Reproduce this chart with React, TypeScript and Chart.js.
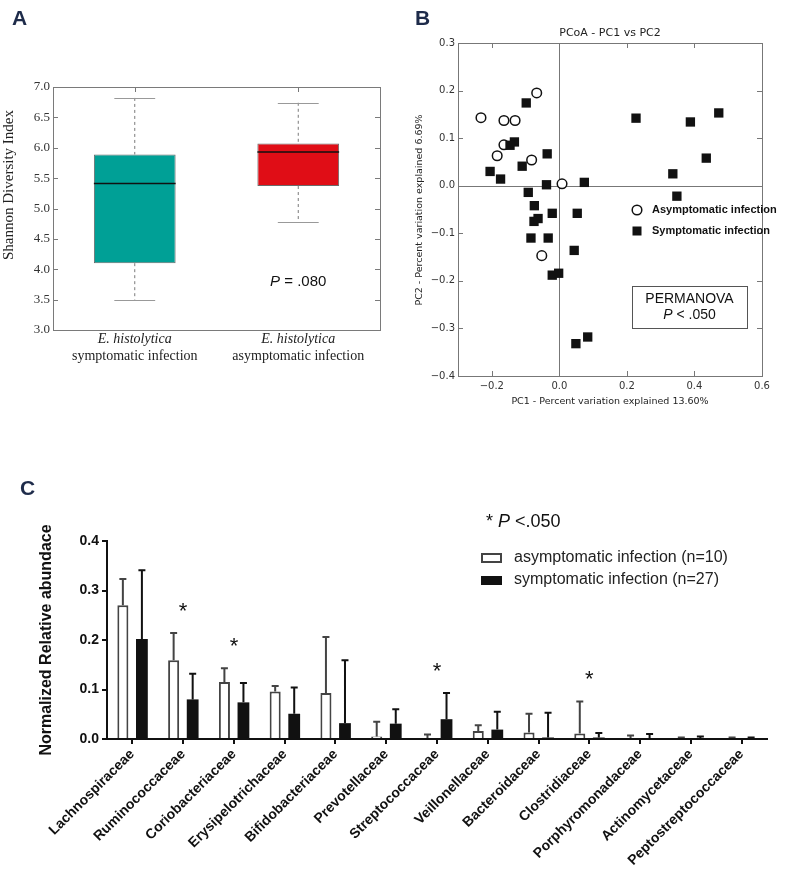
import React, { useEffect, useRef } from "react";
import { Chart, registerables } from "chart.js";
Chart.register(...registerables);

const SERIF = "'Liberation Serif', 'Times New Roman', serif";
const SANS = "'Liberation Sans', Arial, sans-serif";
const DJV = "'DejaVu Sans', Verdana, sans-serif";
const NAVY = "#1E2B4A";

// ---------- Panel A : Shannon diversity boxplot ----------
const boxSpecies = "E. histolytica";
const boxGroups = ["symptomatic infection", "asymptomatic infection"];
const boxLow = [3.5, 4.77];
const boxQ1 = [4.1, 5.37];
const boxMedian = [5.41, 5.93];
const boxQ3 = [5.89, 6.07];
const boxHigh = [6.82, 6.74];
const boxColors = ["#00A096", "#E00D16"];
const shannonTicks = [3.0, 3.5, 4.0, 4.5, 5.0, 5.5, 6.0, 6.5, 7.0];

// ---------- Panel B : PCoA ----------
const asymPC1 = [-0.232, -0.164, -0.131, -0.067, -0.164, -0.184, -0.082, 0.008, -0.052];
const asymPC2 = [0.143, 0.137, 0.137, 0.195, 0.086, 0.063, 0.054, 0.004, -0.147];
const symPC1 = [-0.098, 0.227, 0.388, 0.472, 0.435, 0.336, 0.348, -0.133, -0.146, -0.036, -0.11, -0.205, -0.174, -0.038, 0.074, -0.092, -0.074, -0.075, -0.063, -0.021, 0.053, -0.084, -0.033, 0.044, -0.021, -0.002, 0.049, 0.084];
const symPC2 = [0.174, 0.142, 0.134, 0.153, 0.058, 0.025, -0.022, 0.092, 0.085, 0.067, 0.041, 0.03, 0.014, 0.002, 0.007, -0.014, -0.042, -0.075, -0.069, -0.058, -0.058, -0.11, -0.11, -0.136, -0.188, -0.184, -0.332, -0.318];
const pc1Ticks = [-0.2, 0.0, 0.2, 0.4, 0.6];
const pc2Ticks = [-0.4, -0.3, -0.2, -0.1, 0.0, 0.1, 0.2, 0.3];

// ---------- Panel C : family abundance ----------
const families = [
  "Lachnospiraceae", "Ruminococcaceae", "Coriobacteriaceae", "Erysipelotrichaceae",
  "Bifidobacteriaceae", "Prevotellaceae", "Streptococcaceae", "Veillonellaceae",
  "Bacteroidaceae", "Clostridiaceae", "Porphyromonadaceae", "Actinomycetaceae",
  "Peptostreptococcaceae",
];
const asymMean = [0.27, 0.159, 0.115, 0.096, 0.093, 0.005, 0.002, 0.016, 0.013, 0.011, 0.002, 0.001, 0.001];
const asymSD = [0.053, 0.055, 0.028, 0.011, 0.113, 0.03, 0.007, 0.012, 0.038, 0.065, 0.005, 0.002, 0.002];
const symMean = [0.202, 0.08, 0.074, 0.051, 0.032, 0.031, 0.04, 0.019, 0.003, 0.003, 0.001, 0.001, 0.001];
const symSD = [0.139, 0.052, 0.039, 0.053, 0.127, 0.029, 0.053, 0.036, 0.05, 0.009, 0.009, 0.004, 0.002];
const sigFamilies = ["Ruminococcaceae", "Coriobacteriaceae", "Streptococcaceae", "Clostridiaceae"];
const abundTicks = [0, 0.1, 0.2, 0.3, 0.4];

const fmtSigned = (v: any) => {
  const n = Number(v);
  const s = Math.abs(n).toFixed(1);
  return n < -1e-9 ? "\u2212" + s : s;
};

function drawLetter(ctx: CanvasRenderingContext2D, t: string, x: number, y: number) {
  ctx.save();
  ctx.fillStyle = NAVY;
  ctx.font = `bold 21px ${SANS}`;
  ctx.textAlign = "left";
  ctx.textBaseline = "alphabetic";
  ctx.fillText(t, x, y);
  ctx.restore();
}

function drawMixed(ctx: CanvasRenderingContext2D, parts: [string, string][], cx: number, cy: number, align: "center" | "left" = "center") {
  let total = 0;
  const widths = parts.map(([txt, font]) => { ctx.font = font; const w = ctx.measureText(txt).width; total += w; return w; });
  let x = align === "center" ? cx - total / 2 : cx;
  ctx.textAlign = "left";
  ctx.textBaseline = "middle";
  parts.forEach(([txt, font], i) => { ctx.font = font; ctx.fillText(txt, x, cy); x += widths[i]; });
}

const boxPlugin = {
  id: "boxPlugin",
  afterDatasetsDraw(chart: any) {
    const { ctx, chartArea: a, scales } = chart;
    const y = scales.y;
    const meta = chart.getDatasetMeta(0);
    ctx.save();
    meta.data.forEach((bar: any, i: number) => {
      const cx = bar.x;
      const w = bar.width;
      ctx.strokeStyle = "#7a7a7a";
      ctx.lineWidth = 1;
      ctx.setLineDash([3, 3]);
      ctx.beginPath();
      ctx.moveTo(cx, y.getPixelForValue(boxHigh[i]));
      ctx.lineTo(cx, y.getPixelForValue(boxQ3[i]));
      ctx.moveTo(cx, y.getPixelForValue(boxQ1[i]));
      ctx.lineTo(cx, y.getPixelForValue(boxLow[i]));
      ctx.stroke();
      ctx.setLineDash([]);
      ctx.strokeStyle = "#999";
      ctx.beginPath();
      [boxHigh[i], boxLow[i]].forEach((v) => {
        const py = Math.round(y.getPixelForValue(v)) + 0.5;
        ctx.moveTo(cx - w / 4, py);
        ctx.lineTo(cx + w / 4, py);
      });
      ctx.stroke();
      ctx.strokeStyle = "#111";
      ctx.lineWidth = 1.5;
      ctx.beginPath();
      const my = y.getPixelForValue(boxMedian[i]);
      ctx.moveTo(cx - w / 2, my);
      ctx.lineTo(cx + w / 2, my);
      ctx.stroke();
      // category labels
      ctx.fillStyle = "#222";
      ctx.textAlign = "center";
      ctx.textBaseline = "middle";
      ctx.font = `italic 14px ${SERIF}`;
      ctx.fillText(boxSpecies, cx, a.bottom + 9);
      ctx.font = `14px ${SERIF}`;
      ctx.fillText(boxGroups[i], cx, a.bottom + 26);
      // top tick
      ctx.strokeStyle = "#777";
      ctx.lineWidth = 1;
      ctx.beginPath();
      ctx.moveTo(Math.round(cx) + 0.5, a.top);
      ctx.lineTo(Math.round(cx) + 0.5, a.top + 5);
      ctx.stroke();
    });
    // frame
    ctx.strokeStyle = "#7a7a7a";
    ctx.lineWidth = 1;
    ctx.strokeRect(Math.round(a.left) + 0.5, Math.round(a.top) + 0.5, Math.round(a.width), Math.round(a.height));
    ctx.beginPath();
    shannonTicks.forEach((v) => {
      const py = Math.round(y.getPixelForValue(v)) + 0.5;
      ctx.moveTo(a.left, py); ctx.lineTo(a.left + 5, py);
      ctx.moveTo(a.right, py); ctx.lineTo(a.right - 5, py);
    });
    ctx.stroke();
    // y title
    ctx.save();
    ctx.translate(9, a.top + 98);
    ctx.rotate(-Math.PI / 2);
    ctx.fillStyle = "#222";
    ctx.font = `15px ${SERIF}`;
    ctx.textAlign = "center";
    ctx.textBaseline = "middle";
    ctx.fillText("Shannon Diversity Index", 0, 0);
    ctx.restore();
    // p value
    ctx.fillStyle = "#111";
    const px = meta.data[1].x;
    drawMixed(ctx, [["P", `italic 15px ${SANS}`], [" = .080", `15px ${SANS}`]], px, y.getPixelForValue(3.79));
    drawLetter(ctx, "A", 12, 25);
    ctx.restore();
  },
};

const pcoaPlugin = {
  id: "pcoaPlugin",
  beforeDatasetsDraw(chart: any) {
    const { ctx, chartArea: a, scales } = chart;
    const { x, y } = scales;
    ctx.save();
    ctx.strokeStyle = "#777";
    ctx.lineWidth = 1;
    const x0 = Math.round(x.getPixelForValue(0)) + 0.5;
    const y0 = Math.round(y.getPixelForValue(0)) + 0.5;
    ctx.beginPath();
    ctx.moveTo(x0, a.top); ctx.lineTo(x0, a.bottom);
    ctx.moveTo(a.left, y0); ctx.lineTo(a.right, y0);
    pc2Ticks.forEach((v) => {
      const py = Math.round(y.getPixelForValue(v)) + 0.5;
      ctx.moveTo(a.left, py); ctx.lineTo(a.left + 5, py);
      ctx.moveTo(a.right, py); ctx.lineTo(a.right - 5, py);
    });
    pc1Ticks.forEach((v) => {
      const px = Math.round(x.getPixelForValue(v)) + 0.5;
      ctx.moveTo(px, a.top); ctx.lineTo(px, a.top + 5);
      ctx.moveTo(px, a.bottom); ctx.lineTo(px, a.bottom - 5);
    });
    ctx.stroke();
    ctx.strokeRect(Math.round(a.left) + 0.5, Math.round(a.top) + 0.5, Math.round(a.width), Math.round(a.height));
    ctx.restore();
  },
  afterDraw(chart: any) {
    const { ctx, chartArea: a } = chart;
    ctx.save();
    ctx.fillStyle = "#222";
    ctx.textAlign = "center";
    ctx.textBaseline = "middle";
    ctx.font = `11px ${DJV}`;
    ctx.fillText("PCoA - PC1 vs PC2", (a.left + a.right) / 2, a.top - 10);
    ctx.font = `9.5px ${DJV}`;
    ctx.fillText("PC1 - Percent variation explained 13.60%", (a.left + a.right) / 2, a.bottom + 26);
    ctx.save();
    ctx.translate(20, (a.top + a.bottom) / 2 + 0.5);
    ctx.rotate(-Math.PI / 2);
    ctx.fillText("PC2 - Percent variation explained 6.69%", 0, 0);
    ctx.restore();
    // legend
    const lx = a.left + 179;
    const ly1 = a.top + 167;
    const ly2 = a.top + 188;
    ctx.beginPath();
    ctx.arc(lx, ly1, 4.8, 0, Math.PI * 2);
    ctx.fillStyle = "#fff";
    ctx.fill();
    ctx.strokeStyle = "#111";
    ctx.lineWidth = 1.5;
    ctx.stroke();
    ctx.fillStyle = "#111";
    ctx.fillRect(lx - 4.5, ly2 - 4.5, 9, 9);
    ctx.font = `bold 11px ${SANS}`;
    ctx.textAlign = "left";
    ctx.fillText("Asymptomatic infection", lx + 15, ly1);
    ctx.fillText("Symptomatic infection", lx + 15, ly2);
    // PERMANOVA box
    const bx = a.left + 174, by = a.top + 243, bw = 115, bh = 42;
    ctx.strokeStyle = "#555";
    ctx.lineWidth = 1;
    ctx.strokeRect(bx + 0.5, by + 0.5, bw, bh);
    ctx.fillStyle = "#111";
    ctx.textAlign = "center";
    ctx.font = `14px ${SANS}`;
    ctx.fillText("PERMANOVA", bx + bw / 2, by + 13);
    drawMixed(ctx, [["P", `italic 14px ${SANS}`], [" < .050", `14px ${SANS}`]], bx + bw / 2, by + 29);
    drawLetter(ctx, "B", 15, 25);
    ctx.restore();
  },
};

const abundPlugin = {
  id: "abundPlugin",
  afterDatasetsDraw(chart: any) {
    const { ctx, scales } = chart;
    const { x, y } = scales;
    ctx.save();
    const groups = [
      { mean: asymMean, sd: asymSD, color: "#444" },
      { mean: symMean, sd: symSD, color: "#111" },
    ];
    groups.forEach((g, di) => {
      const meta = chart.getDatasetMeta(di);
      ctx.strokeStyle = g.color;
      ctx.lineWidth = 2;
      ctx.beginPath();
      meta.data.forEach((bar: any, j: number) => {
        const bx = bar.x;
        const yb = y.getPixelForValue(g.mean[j]);
        const yt = y.getPixelForValue(g.mean[j] + g.sd[j]);
        ctx.moveTo(bx, yb);
        ctx.lineTo(bx, yt);
        ctx.moveTo(bx - 3.5, yt);
        ctx.lineTo(bx + 3.5, yt);
      });
      ctx.stroke();
    });
    ctx.fillStyle = "#111";
    ctx.font = `22px ${SANS}`;
    ctx.textAlign = "center";
    ctx.textBaseline = "alphabetic";
    sigFamilies.forEach((f) => {
      const j = families.indexOf(f);
      const top = Math.min(
        y.getPixelForValue(asymMean[j] + asymSD[j]),
        y.getPixelForValue(symMean[j] + symSD[j])
      );
      ctx.fillText("*", x.getPixelForValue(j), top - 28 + 13);
    });
    ctx.restore();
  },
  afterDraw(chart: any) {
    const { ctx, chartArea: a } = chart;
    ctx.save();
    ctx.fillStyle = "#111";
    drawMixed(ctx, [["* ", `18px ${SANS}`], ["P", `italic 18px ${SANS}`], [" <.050", `18px ${SANS}`]], 486, 52, "left");
    ctx.strokeStyle = "#444";
    ctx.lineWidth = 2;
    ctx.strokeRect(482, 84, 19, 8);
    ctx.fillStyle = "#111";
    ctx.fillRect(481, 106, 21, 9);
    ctx.fillStyle = "#222";
    ctx.font = `16px ${SANS}`;
    ctx.textAlign = "left";
    ctx.textBaseline = "middle";
    ctx.fillText("asymptomatic infection (n=10)", 514, 88);
    ctx.fillText("symptomatic infection (n=27)", 514, 110);
    ctx.save();
    ctx.translate(47, (a.top + a.bottom) / 2);
    ctx.rotate(-Math.PI / 2);
    ctx.fillStyle = "#111";
    ctx.font = `bold 16px ${SANS}`;
    ctx.textAlign = "center";
    ctx.fillText("Normalized Relative abundace", 0, 0);
    ctx.restore();
    drawLetter(ctx, "C", 20, 25);
    ctx.restore();
  },
};

function useChart(ref: React.RefObject<HTMLCanvasElement>, make: (c: HTMLCanvasElement) => Chart) {
  useEffect(() => {
    if (!ref.current) return;
    const ch = make(ref.current);
    return () => ch.destroy();
  }, []);
}

export default function App() {
  const refA = useRef<HTMLCanvasElement>(null);
  const refB = useRef<HTMLCanvasElement>(null);
  const refC = useRef<HTMLCanvasElement>(null);

  useChart(refA as any, (c) =>
    new Chart(c, {
      type: "bar",
      data: {
        labels: boxGroups,
        datasets: [
          {
            data: boxQ1.map((q, i) => [q, boxQ3[i]]) as any,
            backgroundColor: boxColors,
            borderColor: "#6a6a6a",
            borderWidth: 1,
            borderSkipped: false,
            barPercentage: 0.5,
            categoryPercentage: 1,
          },
        ],
      },
      options: {
        responsive: false,
        animation: false,
        layout: { padding: { left: 0, top: 87, right: 20, bottom: 50 } },
        plugins: { legend: { display: false }, tooltip: { enabled: false } },
        scales: {
          x: { display: false },
          y: {
            min: 3,
            max: 7,
            afterBuildTicks: (s: any) => { s.ticks = shannonTicks.map((v) => ({ value: v })); },
            afterFit: (s: any) => { s.width = 53; },
            grid: { display: false, drawTicks: false },
            border: { display: false },
            ticks: { font: { family: SERIF, size: 13 }, color: "#333", padding: 3, callback: (v: any) => Number(v).toFixed(1) },
          },
        },
      },
      plugins: [boxPlugin],
    } as any)
  );

  useChart(refB as any, (c) =>
    new Chart(c, {
      type: "scatter",
      data: {
        datasets: [
          {
            label: "Symptomatic infection",
            data: symPC1.map((x, i) => ({ x, y: symPC2[i] })),
            pointStyle: "rect",
            pointRadius: 6.6,
            backgroundColor: "#111",
            borderColor: "#111",
            borderWidth: 0,
          },
          {
            label: "Asymptomatic infection",
            data: asymPC1.map((x, i) => ({ x, y: asymPC2[i] })),
            pointStyle: "circle",
            pointRadius: 4.8,
            backgroundColor: "#fff",
            borderColor: "#111",
            borderWidth: 1.5,
          },
        ],
      },
      options: {
        responsive: false,
        animation: false,
        layout: { padding: { left: 0, top: 43, right: 38, bottom: 14 } },
        plugins: { legend: { display: false }, tooltip: { enabled: false } },
        scales: {
          x: {
            type: "linear",
            min: -0.3,
            max: 0.6,
            afterBuildTicks: (s: any) => { s.ticks = pc1Ticks.map((v) => ({ value: v })); },
            afterFit: (s: any) => { s.height = 30; },
            grid: { display: false, drawTicks: false },
            border: { display: false },
            ticks: { font: { family: DJV, size: 10 }, color: "#333", padding: 4, callback: fmtSigned },
          },
          y: {
            min: -0.4,
            max: 0.3,
            afterBuildTicks: (s: any) => { s.ticks = pc2Ticks.map((v) => ({ value: v })); },
            afterFit: (s: any) => { s.width = 58; },
            grid: { display: false, drawTicks: false },
            border: { display: false },
            ticks: { font: { family: DJV, size: 10 }, color: "#333", padding: 3, callback: fmtSigned },
          },
        },
      },
      plugins: [pcoaPlugin],
    } as any)
  );

  useChart(refC as any, (c) =>
    new Chart(c, {
      type: "bar",
      data: {
        labels: families,
        datasets: [
          {
            label: "asymptomatic infection (n=10)",
            data: asymMean,
            backgroundColor: "#fff",
            borderColor: "#444",
            borderWidth: { top: 2, left: 2, right: 2, bottom: 0 },
            borderSkipped: false,
            categoryPercentage: 0.75,
            barPercentage: 0.58,
          },
          {
            label: "symptomatic infection (n=27)",
            data: symMean,
            backgroundColor: "#111",
            borderWidth: 0,
            categoryPercentage: 0.75,
            barPercentage: 0.62,
          },
        ],
      },
      options: {
        responsive: false,
        animation: false,
        layout: { padding: { left: 0, top: 71, right: 33, bottom: 0 } },
        plugins: { legend: { display: false }, tooltip: { enabled: false } },
        scales: {
          x: {
            afterFit: (s: any) => { s.height = 137; },
            grid: { display: true, drawOnChartArea: false, drawTicks: true, tickLength: 5, color: "#111", lineWidth: 2, offset: false },
            border: { display: true, color: "#111", width: 2, z: 1 },
            ticks: { font: { family: SANS, size: 14, weight: "bold" }, color: "#111", minRotation: 45, maxRotation: 45, autoSkip: false, padding: 2 },
          },
          y: {
            min: 0,
            max: 0.4,
            afterBuildTicks: (s: any) => { s.ticks = abundTicks.map((v) => ({ value: v })); },
            afterFit: (s: any) => { s.width = 107; },
            grid: { display: true, drawOnChartArea: false, drawTicks: true, tickLength: 5, color: "#111", lineWidth: 2 },
            border: { display: true, color: "#111", width: 2, z: 1 },
            ticks: { font: { family: SANS, size: 14, weight: "bold" }, color: "#111", padding: 3, callback: (v: any) => Number(v).toFixed(1) },
          },
        },
      },
      plugins: [abundPlugin],
    } as any)
  );

  return (
    <div style={{ position: "absolute", left: 0, top: 0, width: 800, height: 876, background: "#fff" }}>
      <canvas ref={refA} width={400} height={380} style={{ position: "absolute", left: 0, top: 0, width: 400, height: 380 }} />
      <canvas ref={refB} width={400} height={420} style={{ position: "absolute", left: 400, top: 0, width: 400, height: 420 }} />
      <canvas ref={refC} width={800} height={406} style={{ position: "absolute", left: 0, top: 470, width: 800, height: 406 }} />
    </div>
  );
}
